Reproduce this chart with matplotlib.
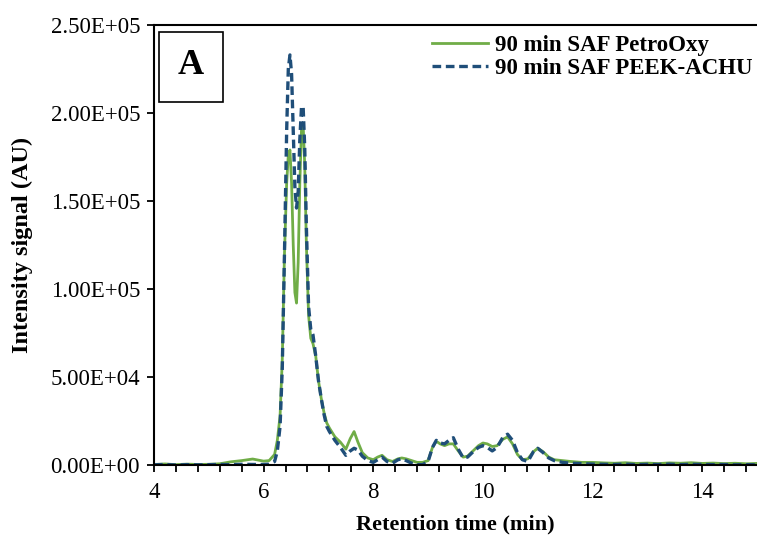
import matplotlib
matplotlib.use('Agg')
import matplotlib.pyplot as plt
from matplotlib.patches import Rectangle
from matplotlib.ticker import MultipleLocator, FuncFormatter

# retention time (min)
time = [4.0, 4.2, 4.4, 4.6, 4.8, 5.0, 5.2, 5.4, 5.6, 5.8, 6.0, 6.1, 6.2, 6.25,
        6.3, 6.34, 6.38, 6.42, 6.45, 6.48, 6.51, 6.54, 6.57, 6.6, 6.63, 6.66,
        6.69, 6.72, 6.75, 6.78, 6.82, 6.86, 6.9, 6.95, 7.0, 7.05, 7.1, 7.15,
        7.2, 7.3, 7.4, 7.5, 7.58, 7.65, 7.72, 7.8, 7.9, 8.0, 8.08, 8.16, 8.25,
        8.35, 8.45, 8.52, 8.6, 8.7, 8.8, 8.9, 9.0, 9.08, 9.15, 9.22, 9.3, 9.38,
        9.46, 9.55, 9.64, 9.72, 9.82, 9.92, 10.0, 10.08, 10.17, 10.26, 10.36,
        10.45, 10.54, 10.63, 10.72, 10.82, 10.92, 11.0, 11.1, 11.2, 11.3,
        11.45, 11.6, 11.8, 12.0, 12.2, 12.4, 12.6, 12.8, 13.0, 13.2, 13.4,
        13.6, 13.8, 14.0, 14.2, 14.4, 14.6, 14.8, 15.0]

# 90 min SAF PetroOxy
petrooxy = [300, 600, 200, 500, 300, 400, 700, 1800, 2500, 3400, 2200, 2500,
            6000, 14000, 28000, 60000, 120000, 160000, 176000, 179000, 160000,
            125000, 98000, 92000, 115000, 160000, 190000, 194000, 170000,
            125000, 85000, 72000, 69000, 62000, 48000, 38000, 30000, 24000,
            21000, 16000, 13000, 9000, 15000, 19000, 13000, 7000, 4000, 3000,
            4500, 5500, 3000, 2000, 3500, 4000, 3500, 2500, 1500, 1500, 2500,
            10000, 13500, 12000, 11000, 12000, 12000, 8000, 4500, 5000, 8000,
            11000, 12500, 12000, 10500, 11000, 14500, 16000, 12000, 6000, 3000,
            3500, 7500, 9500, 7500, 4500, 3000, 2500, 2000, 1500, 1500, 1200,
            1000, 1300, 900, 1100, 800, 1200, 1000, 1300, 900, 1100, 800, 1000,
            700, 900]

# 90 min SAF PEEK-ACHU
peek_achu = [100, 300, 0, 200, 100, 200, 300, 200, 400, 300, 300, 500, 2000,
             8000, 22000, 55000, 120000, 190000, 225000, 233000, 222000,
             190000, 158000, 146000, 155000, 185000, 203000, 204000, 180000,
             135000, 90000, 77000, 74000, 62000, 48000, 38000, 29000, 22000,
             19000, 14000, 10000, 5500, 8000, 9500, 8500, 5000, 2500, 1500,
             3000, 4500, 2000, 1000, 3000, 3500, 2500, 1000, 200, 200, 2000,
             10000, 14000, 12500, 12000, 14000, 15500, 9000, 4000, 4500, 7500,
             10000, 11000, 10000, 8000, 10000, 15500, 17500, 14000, 7000, 3000,
             2000, 7500, 9500, 7000, 4000, 2500, 1500, 1000, 800, 500, 400,
             300, 500, 200, 400, 300, 500, 200, 400, 300, 200, 300, 100, 200,
             100]

plt.rcParams['font.family'] = ['Liberation Serif', 'DejaVu Serif']

fig = plt.figure(figsize=(7.57, 5.36), dpi=100)
ax = fig.add_axes([154 / 757, 1 - 465 / 536, 1 - 154 / 757, 440 / 536])

ax.plot(time, petrooxy, color='#70AD47', linewidth=2.0,
        label='90 min SAF PetroOxy')
ax.plot(time, peek_achu, color='#1F4E79', linewidth=2.4,
        linestyle=(0, (2.6, 1.4)), label='90 min SAF PEEK-ACHU')

ax.set_xlim(4, 15)
ax.set_ylim(0, 250000)
ax.xaxis.set_major_locator(MultipleLocator(2))
ax.xaxis.set_minor_locator(MultipleLocator(0.4))
ax.yaxis.set_major_locator(MultipleLocator(50000))
ax.yaxis.set_major_formatter(FuncFormatter(lambda v, p: f'{v:.2E}'))

for s in ax.spines.values():
    s.set_linewidth(1.5)
ax.spines['right'].set_visible(False)
ax.tick_params(axis='both', which='both', direction='out', width=1.3,
               length=5, labelsize=16.5)
ax.tick_params(axis='y', pad=5)
ax.tick_params(axis='x', pad=7)

ax.set_xlabel('Retention time (min)', fontsize=16, fontweight='bold')
ax.set_ylabel('Intensity signal (AU)', fontsize=17.5, fontweight='bold')
ax.xaxis.set_label_coords(0.5, -0.112)
ax.yaxis.set_label_coords(-0.2, 0.5)

ax.legend(loc='upper right', bbox_to_anchor=(1.012, 1.004), frameon=False,
          prop={'weight': 'bold', 'size': 16.5}, handlelength=2.45,
          handletextpad=0.3, labelspacing=0.1, borderaxespad=0.2,
          borderpad=0.3)

# panel label box
fig.add_artist(Rectangle((159 / 757, 1 - 102 / 536), 64 / 757, 70 / 536,
                         transform=fig.transFigure, fill=False,
                         edgecolor='black', linewidth=1.2))
fig.text(191 / 757, 1 - 66 / 536, 'A', fontsize=26, fontweight='bold',
         ha='center', va='center')

plt.savefig('out.png', dpi=100)
